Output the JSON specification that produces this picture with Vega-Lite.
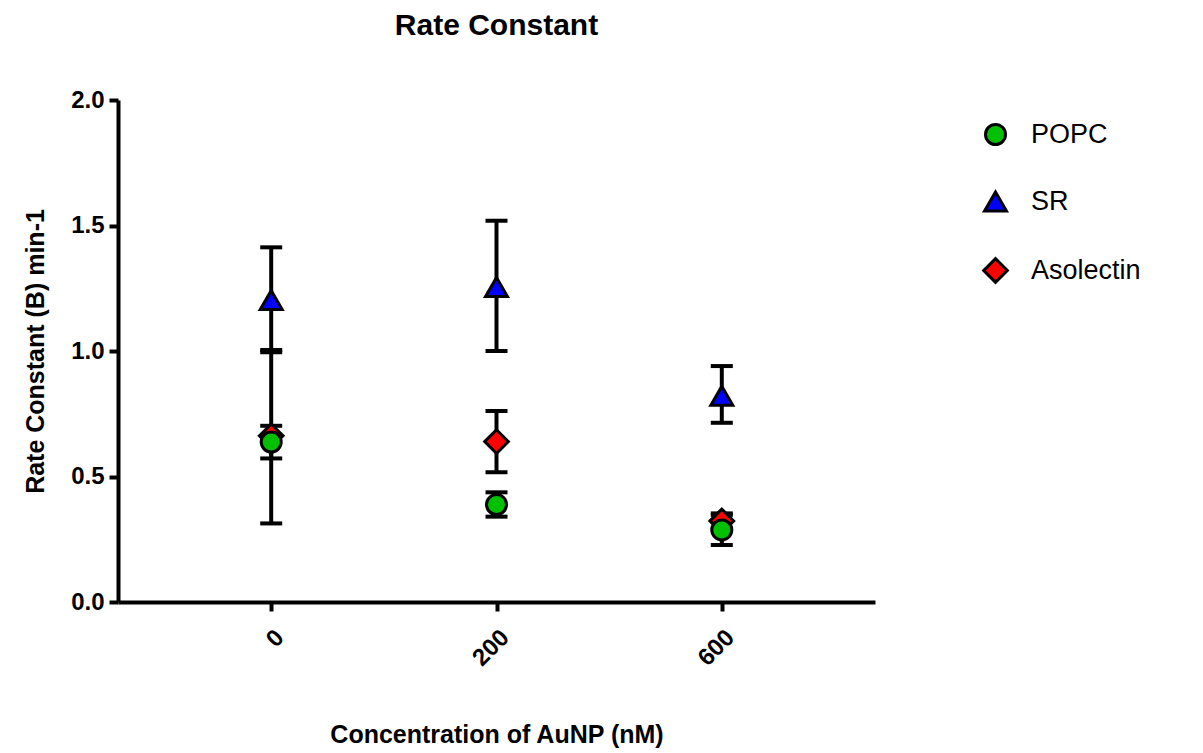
{
  "$schema": "https://vega.github.io/schema/vega-lite/v6.json",
  "width": 757,
  "height": 502,
  "autosize": {"type": "none"},
  "padding": {"left": 118, "top": 100, "right": 328, "bottom": 151},
  "background": "white",
  "title": {"text": "Rate Constant", "fontSize": 30, "font": "Liberation Sans", "fontWeight": "bold", "color": "black", "offset": 47, "anchor": "middle"},
  "config": {
    "view": {"stroke": null},
    "axis": {"grid": false, "domainColor": "black", "domainWidth": 4, "tickColor": "black", "tickWidth": 4, "tickSize": 9, "labelFont": "Liberation Sans", "labelFontWeight": "bold", "labelColor": "black", "labelFontSize": 24, "titleFont": "Liberation Sans", "titleFontWeight": "bold", "titleColor": "black", "titleFontSize": 25}
  },
  "data": {"values": [
    {"conc": "0", "series": "POPC", "mean": 0.637, "lo": 0.572, "hi": 0.702},
    {"conc": "200", "series": "POPC", "mean": 0.388, "lo": 0.340, "hi": 0.437},
    {"conc": "600", "series": "POPC", "mean": 0.287, "lo": 0.227, "hi": 0.347},
    {"conc": "0", "series": "SR", "mean": 1.203, "lo": 0.995, "hi": 1.413},
    {"conc": "200", "series": "SR", "mean": 1.255, "lo": 1.0, "hi": 1.519},
    {"conc": "600", "series": "SR", "mean": 0.822, "lo": 0.714, "hi": 0.940},
    {"conc": "0", "series": "Asolectin", "mean": 0.662, "lo": 0.313, "hi": 1.004},
    {"conc": "200", "series": "Asolectin", "mean": 0.639, "lo": 0.517, "hi": 0.761},
    {"conc": "600", "series": "Asolectin", "mean": 0.323, "lo": 0.293, "hi": 0.353}
  ]},
  "encoding": {
    "x": {"field": "conc", "type": "ordinal", "sort": ["0", "200", "600"], "scale": {"type": "point", "padding": 0.68},
      "axis": {"title": "Concentration of AuNP (nM)", "labelAngle": -45, "labelFontSize": 24, "labelPadding": 14, "titlePadding": 52}}
  },
  "layer": [
    {
      "mark": {"type": "rule", "color": "black", "strokeWidth": 4},
      "encoding": {
        "y": {"field": "lo", "type": "quantitative", "scale": {"domain": [0, 2]}},
        "y2": {"field": "hi"}
      }
    },
    {
      "mark": {"type": "tick", "color": "black", "opacity": 1, "thickness": 4, "size": 22, "orient": "horizontal"},
      "encoding": {"y": {"field": "lo", "type": "quantitative"}}
    },
    {
      "mark": {"type": "tick", "color": "black", "opacity": 1, "thickness": 4, "size": 22, "orient": "horizontal"},
      "encoding": {"y": {"field": "hi", "type": "quantitative"}}
    },
    {
      "mark": {"type": "point", "filled": true, "opacity": 1, "stroke": "black", "strokeWidth": 3},
      "encoding": {
        "y": {"field": "mean", "type": "quantitative", "scale": {"domain": [0, 2]},
          "axis": {"title": "Rate Constant (B) min-1", "values": [0, 0.5, 1, 1.5, 2], "format": ".1f", "labelFontSize": 24, "labelPadding": 5, "titlePadding": 22}},
        "color": {"field": "series", "type": "nominal", "scale": {"domain": ["POPC", "SR", "Asolectin"], "range": ["#00c000", "#0000ff", "#ff0000"]},
          "legend": {"title": null, "orient": "none", "legendX": 864, "legendY": 21, "labelFont": "Liberation Sans", "labelFontSize": 27, "labelColor": "black", "labelOffset": 22, "rowPadding": 35, "symbolSize": 230, "symbolStrokeColor": "black", "symbolStrokeWidth": 3, "padding": 0}},
        "shape": {"field": "series", "type": "nominal", "scale": {"domain": ["POPC", "SR", "Asolectin"], "range": ["circle", "triangle-up", "diamond"]}},
        "size": {"field": "series", "type": "nominal", "scale": {"domain": ["POPC", "SR", "Asolectin"], "range": [400, 560, 520]}, "legend": null},
        "order": {"field": "series", "sort": "ascending"}
      }
    }
  ]
}
